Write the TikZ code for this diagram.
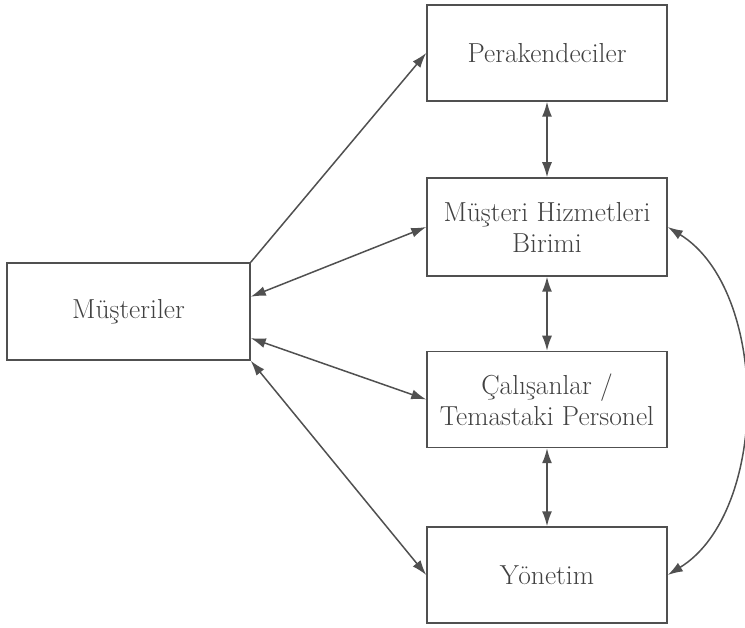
\documentclass[tikz,border=0pt]{standalone}
\usepackage{fontspec}
\usetikzlibrary{arrows.meta,calc}
\definecolor{linec}{RGB}{80,80,80}
\definecolor{textc}{RGB}{65,65,65}
\begin{document}
\begin{tikzpicture}[x=1pt,y=-1pt,
  box/.style={draw=linec, line width=1.5pt, minimum width=240pt, minimum height=96pt,
    inner sep=0pt, align=center, text=textc, font=\fontsize{27.5}{31}\selectfont},
  tip/.tip={Latex[length=15pt,width=10pt]},
  conn/.style={draw=linec, line width=1.5pt, tip-tip},
  oneway/.style={draw=linec, line width=1.5pt, -tip}]
\useasboundingbox (0,0) rectangle (745,628);
\node[box, minimum width=243pt, minimum height=97pt] (mu) at (128.5,311.5) {Müşteriler};
\node[box] (pe) at (547,53) {Perakendeciler};
\node[box, minimum height=98pt] (mh) at (547,227) {Müşteri Hizmetleri\\Birimi};
\node[box] (ca) at (547,399.5) {Çalışanlar /\\Temastaki Personel};
\node[box] (yo) at (547,575) {Yönetim};
\coordinate (m1) at ($(mu.north east)!0.35!(mu.south east)$);
\coordinate (m2) at ($(mu.north east)!0.77!(mu.south east)$);
\draw[oneway] (mu.north east) -- (pe.west);
\draw[conn] (m1) -- (mh.west);
\draw[conn] (m2) -- (ca.west);
\draw[conn] (mu.south east) -- (yo.west);
\draw[conn] (pe.south) -- (mh.north);
\draw[conn] (mh.south) -- (ca.north);
\draw[conn] (ca.south) -- (yo.north);
\draw[conn] (mh.east) .. controls (770,290) and (770,512) .. (yo.east);
\end{tikzpicture}
\end{document}
